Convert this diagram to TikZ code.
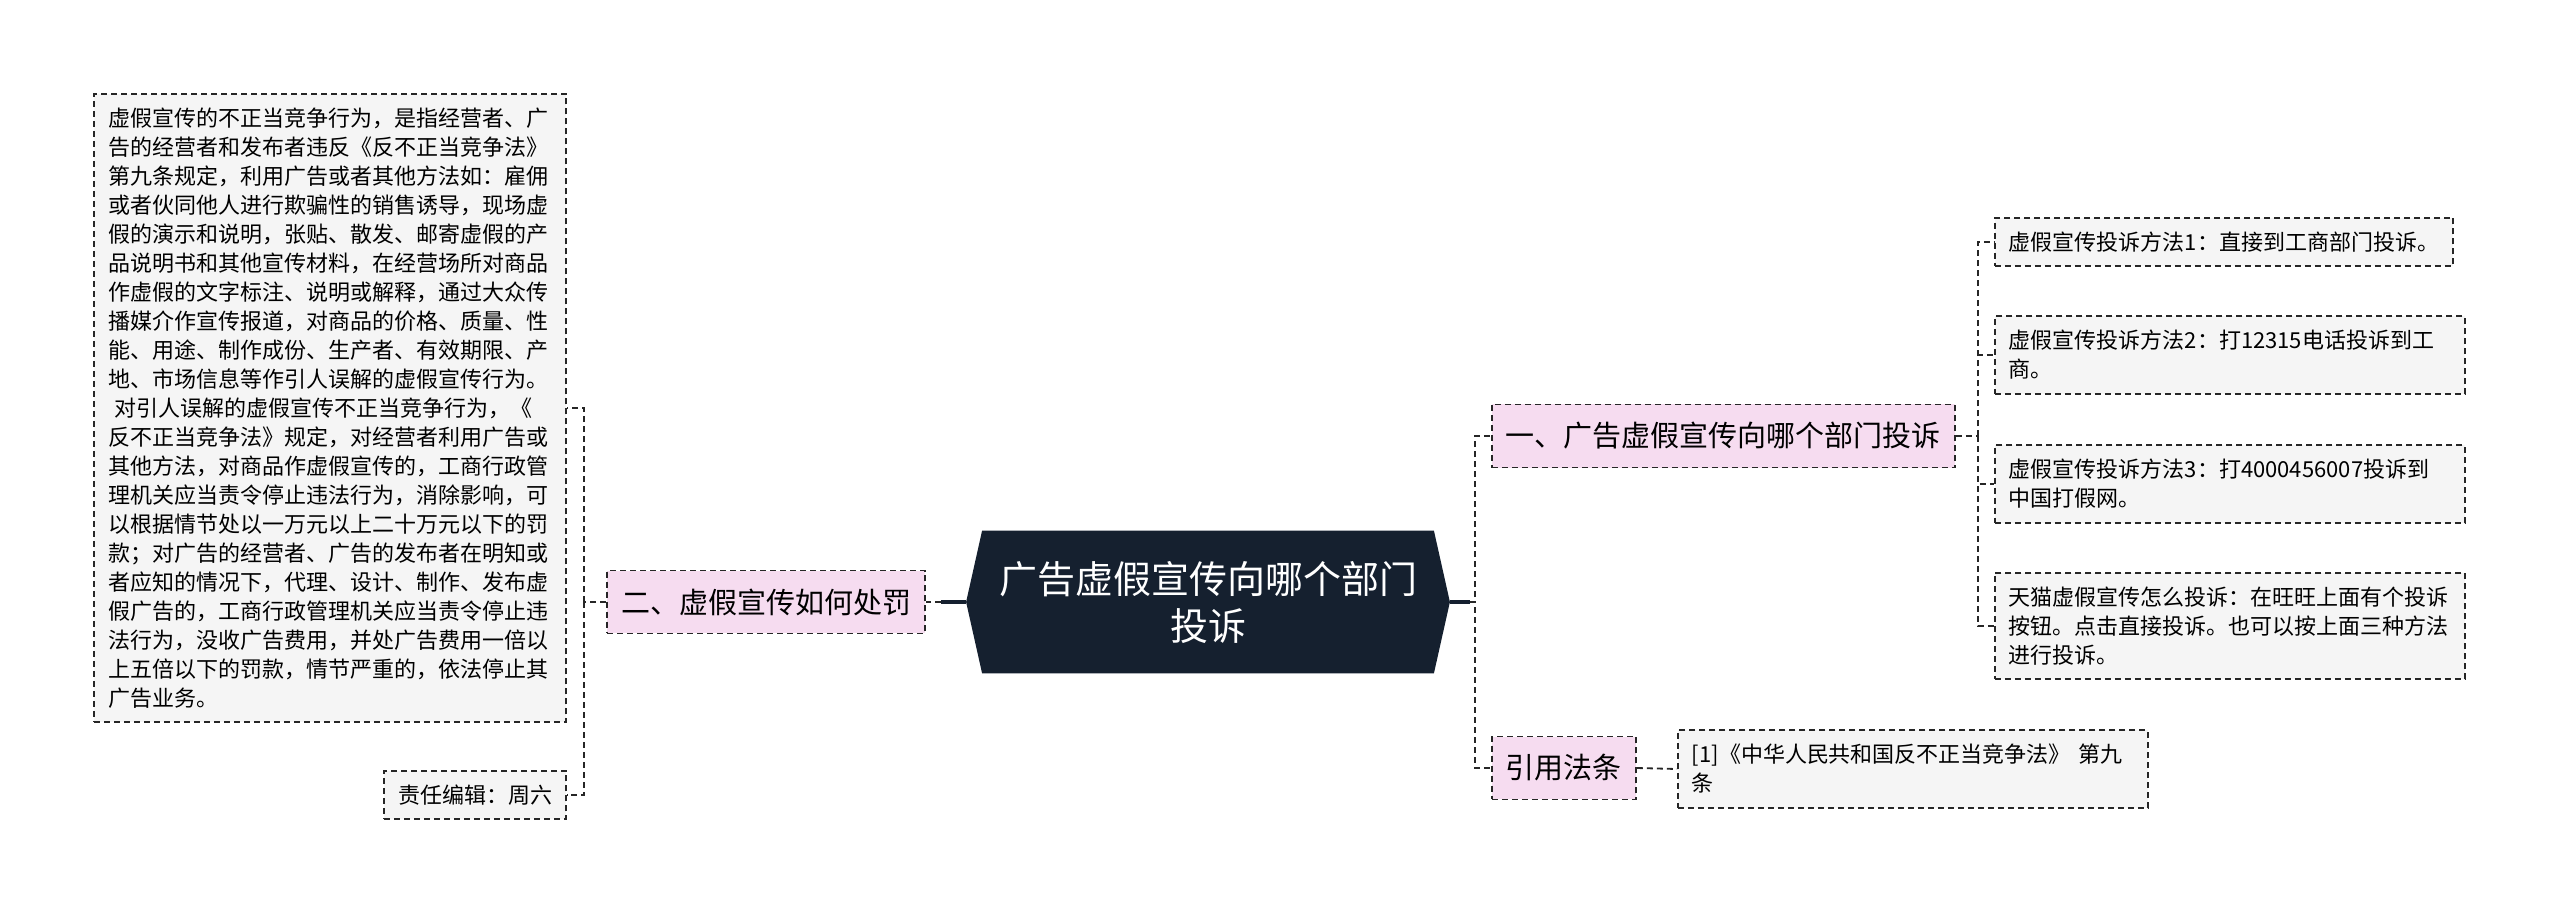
\documentclass[tikz,border=0pt]{standalone}
\usepackage{fontspec}
\setmainfont{Noto Sans CJK SC}
\usetikzlibrary{backgrounds}
\definecolor{mmnavy}{HTML}{15202F}
\definecolor{mmpink}{HTML}{F6DCF0}
\definecolor{mmgray}{HTML}{F5F5F5}
\definecolor{mmline}{HTML}{262626}
\tikzset{
	mindnode/.style = {align=left, inner xsep=7pt, inner ysep=7pt, anchor=west},
	mm_r/.style = {mindnode, align=center, anchor=center, text=white,
		font=\fontsize{19}{23.5}\selectfont, minimum width=241.5pt,
		minimum height=71pt},% carte mentale, racine
	mm_s/.style = {mindnode, fill=mmpink, draw=mmline, line width=0.9pt,
		dash pattern=on 3pt off 2pt, inner ysep=9pt,
		font=\fontsize{14.5}{18}\selectfont},% carte mentale, section
	mm_l/.style = {mindnode, fill=mmgray, draw=mmline, line width=0.9pt,
		dash pattern=on 3pt off 2pt, font=\fontsize{11}{14.5}\selectfont},% feuille
	mm_e/.style = {draw=mmline, line width=0.9pt, dash pattern=on 3pt off 2pt},% lien
	mm_re/.style = {draw=mmnavy, line width=1.6pt}% lien racine
}

\begin{document}
\begin{tikzpicture}[x=0.5pt, y=-0.5pt]
		\useasboundingbox (0,0) rectangle (2560,917);
		\node [mm_r] (root) at (1208,602) {广告虚假宣传向哪个部门\\投诉};
		\begin{scope}[on background layer]
			\fill[mmnavy] ([xshift=8pt]root.north west) -- ([xshift=-8pt]root.north east)
				-- (root.east) -- ([xshift=-8pt]root.south east)
				-- ([xshift=8pt]root.south west) -- (root.west) -- cycle;
		\end{scope}
		\node [mm_s] (sec1) at (1491,436) {一、广告虚假宣传向哪个部门投诉};
		\node [mm_s] (refs) at (1491,768) {引用法条};
		\node [mm_s, anchor=east] (sec2) at (926,602) {二、虚假宣传如何处罚};
		\node [mm_l] (way1) at (1994,242) {虚假宣传投诉方法1：直接到工商部门投诉。};
		\node [mm_l, text width=221pt] (way2) at (1994,355)
			{虚假宣传投诉方法2：打12315电话投诉到工\\商。};
		\node [mm_l, text width=221pt] (way3) at (1994,484)
			{虚假宣传投诉方法3：打4000456007投诉到\\中国打假网。};
		\node [mm_l, text width=221pt] (way4) at (1994,626)
			{天猫虚假宣传怎么投诉：在旺旺上面有个投诉\\按钮。点击直接投诉。也可以按上面三种方法\\进行投诉。};
		\node [mm_l, text width=221pt] (law) at (1677,769)
			{[1]《中华人民共和国反不正当竞争法》 第九\\条};
		\node [mm_l, text width=222pt, anchor=east] (desc) at (567,408)
			{虚假宣传的不正当竞争行为，是指经营者、广\\
			告的经营者和发布者违反《反不正当竞争法》\\
			第九条规定，利用广告或者其他方法如：雇佣\\
			或者伙同他人进行欺骗性的销售诱导，现场虚\\
			假的演示和说明，张贴、散发、邮寄虚假的产\\
			品说明书和其他宣传材料，在经营场所对商品\\
			作虚假的文字标注、说明或解释，通过大众传\\
			播媒介作宣传报道，对商品的价格、质量、性\\
			能、用途、制作成份、生产者、有效期限、产\\
			地、市场信息等作引人误解的虚假宣传行为。\\
			\hspace*{0.3em}对引人误解的虚假宣传不正当竞争行为，《\\
			反不正当竞争法》规定，对经营者利用广告或\\
			其他方法，对商品作虚假宣传的，工商行政管\\
			理机关应当责令停止违法行为，消除影响，可\\
			以根据情节处以一万元以上二十万元以下的罚\\
			款；对广告的经营者、广告的发布者在明知或\\
			者应知的情况下，代理、设计、制作、发布虚\\
			假广告的，工商行政管理机关应当责令停止违\\
			法行为，没收广告费用，并处广告费用一倍以\\
			上五倍以下的罚款，情节严重的，依法停止其\\
			广告业务。};
		\node [mm_l, anchor=east] (editor) at (567,795) {责任编辑：周六};
		% liens
		\draw[mm_re] (root.east) -- ++(20,0) coordinate (rj);
		\draw[mm_e] (rj) -- ++(5,0) |- (sec1.west);
		\draw[mm_e] (rj) -- ++(5,0) |- (refs.west);
		\draw[mm_re] (root.west) -- ++(-25,0) coordinate (lj);
		\draw[mm_e] (lj) -- (sec2.east);
		\draw[mm_e] (sec2.west) -- ++(-22,0) coordinate (sj);
		\draw[mm_e] (sj) |- (desc.east);
		\draw[mm_e] (sj) |- (editor.east);
		\draw[mm_e] (sec1.east) -- ++(22,0) coordinate (wj);
		\foreach \w in {way1,way2,way3,way4}
			\draw[mm_e] (wj) |- (\w.west);
		\draw[mm_e] (refs.east) -- (law.west);
\end{tikzpicture}
\end{document}
